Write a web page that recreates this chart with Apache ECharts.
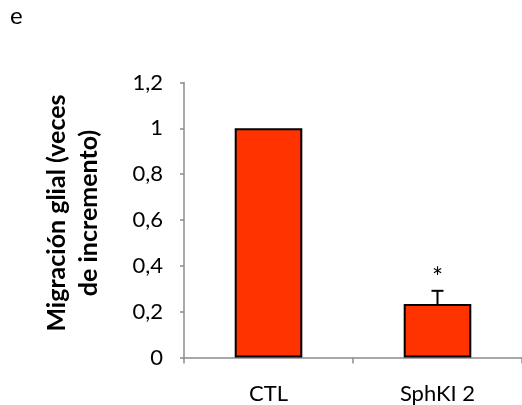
<!DOCTYPE html>
<html>
<head>
<meta charset="utf-8">
<script src="https://cdn.jsdelivr.net/npm/echarts@6/dist/echarts.min.js"></script>
<style>
  html, body { margin: 0; padding: 0; background: #fff; }
  #chart { width: 522px; height: 405px; }
</style>
</head>
<body>
<div id="chart"></div>
<script>
// datos
const categories = ["CTL", "SphKI 2"];
const values = [1, 0.233];
const errors = [0, 0.058];
const signif = ["", "*"];
const yTicks = [0, 0.2, 0.4, 0.6, 0.8, 1, 1.2];

const chart = echarts.init(document.getElementById("chart"));
const font = "Lato, 'Open Sans', sans-serif";

const option = {
  animation: false,
  graphic: [
    {
      type: "text",
      left: 10,
      top: 4,
      style: { text: "e", font: "24px " + font, fill: "#000" },
    },
  ],
  grid: {
    left: 184,
    top: 82.5,
    width: 342,
    height: 275,
    containLabel: false,
  },
  xAxis: {
    type: "category",
    data: categories,
    axisLine: { lineStyle: { color: "#8c8c8c", width: 1.5 } },
    axisTick: { show: true, length: 6, lineStyle: { color: "#8c8c8c", width: 1.5 } },
    axisLabel: { color: "#000", fontFamily: font, fontSize: 22, margin: 25 },
  },
  yAxis: {
    type: "value",
    min: yTicks[0],
    max: yTicks[yTicks.length - 1],
    interval: 0.2,
    name: "Migración glial (veces\nde incremento)",
    nameLocation: "middle",
    nameRotate: 90,
    nameGap: 79,
    nameTextStyle: {
      color: "#000",
      fontFamily: font,
      fontSize: 25,
      fontWeight: "bold",
      lineHeight: 32,
      padding: [0, 0, 0, 14],
    },
    splitLine: { show: false },
    axisLine: { show: true, lineStyle: { color: "#8c8c8c", width: 1.5 } },
    axisTick: { show: true, inside: false, length: 4, lineStyle: { color: "#8c8c8c", width: 1.5 } },
    axisLabel: {
      color: "#000",
      fontFamily: font,
      fontSize: 22,
      margin: 21,
      formatter: (v) => String(Math.round(v * 10) / 10).replace(".", ","),
    },
  },
  series: [
    {
      type: "bar",
      data: values,
      barWidth: "40%",
      itemStyle: { color: "#ff3300", borderColor: "#000", borderWidth: 2 },
    },
    {
      type: "custom",
      data: values.map((v, i) => [i, v, errors[i]]),
      z: 5,
      renderItem: function (params, api) {
        const i = api.value(0);
        const v = api.value(1);
        const e = api.value(2);
        const base = api.coord([i, v]);
        const top = api.coord([i, v + e]);
        const children = [];
        if (e > 0) {
          children.push(
            { type: "line", shape: { x1: base[0], y1: base[1], x2: top[0], y2: top[1] }, style: { stroke: "#000", lineWidth: 2 } },
            { type: "line", shape: { x1: top[0] - 6, y1: top[1], x2: top[0] + 6, y2: top[1] }, style: { stroke: "#000", lineWidth: 2 } }
          );
        }
        if (signif[i]) {
          children.push({
            type: "text",
            x: top[0],
            y: top[1] - 12,
            style: {
              text: signif[i],
              font: "26px " + font,
              fill: "#000",
              align: "center",
              verticalAlign: "middle",
            },
          });
        }
        return { type: "group", children: children };
      },
    },
  ],
};

chart.setOption(option);
</script>
</body>
</html>
